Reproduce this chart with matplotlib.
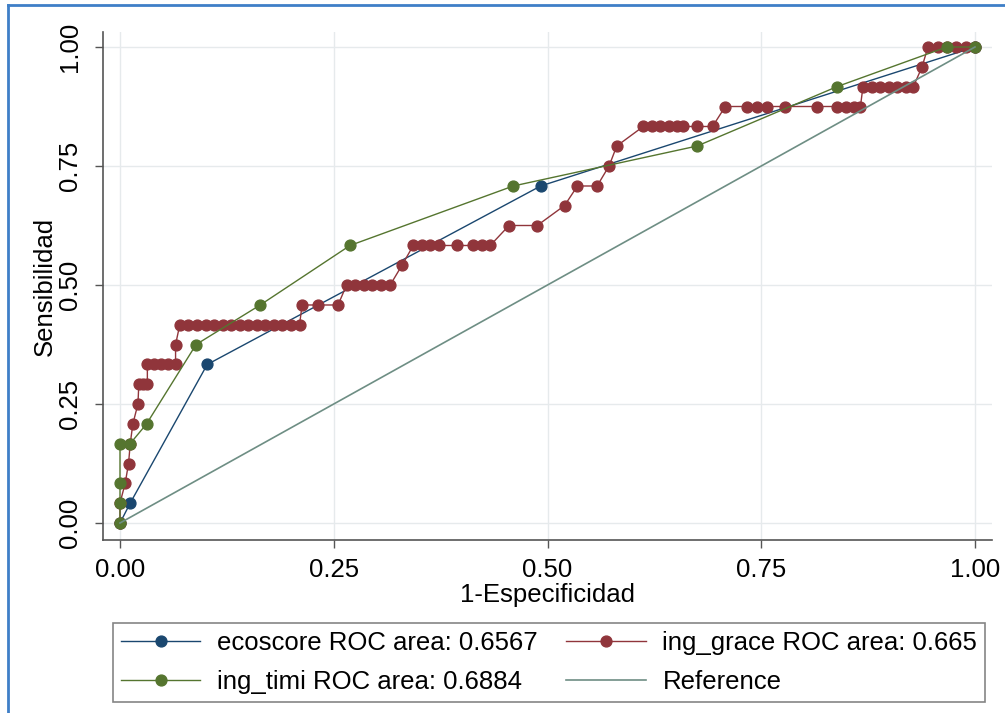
import matplotlib
matplotlib.use("Agg")
import matplotlib.pyplot as plt
from matplotlib.lines import Line2D

# ---- data ----
eco_fpr = [0.0, 0.012, 0.102, 0.492, 1.0]
eco_tpr = [0.0, 0.042, 0.333, 0.708, 1.0]

timi_fpr = [0.0, 0.0, 0.0, 0.0, 0.012, 0.031, 0.089, 0.164, 0.269, 0.46, 0.675, 0.839, 0.967, 1.0]
timi_tpr = [0.0, 0.042, 0.083, 0.167, 0.167, 0.208, 0.375, 0.458, 0.583, 0.708, 0.792, 0.917, 1.0, 1.0]

grace_fpr = [0.0, 0.0, 0.006, 0.010, 0.012, 0.015, 0.021, 0.022, 0.027, 0.032,
             0.032, 0.040, 0.048, 0.056, 0.065, 0.065,
             0.070, 0.080, 0.090, 0.100, 0.110, 0.120, 0.130, 0.140, 0.150, 0.160,
             0.170, 0.180, 0.190, 0.200, 0.210,
             0.213, 0.232, 0.255,
             0.265, 0.275, 0.285, 0.295, 0.305, 0.316,
             0.330,
             0.343, 0.353, 0.363, 0.373, 0.394, 0.413, 0.423, 0.433,
             0.455, 0.488,
             0.520,
             0.535, 0.558,
             0.572,
             0.581,
             0.612, 0.622, 0.632, 0.642, 0.652, 0.659, 0.675, 0.693,
             0.708, 0.733, 0.745, 0.757, 0.778, 0.815, 0.839, 0.849, 0.859, 0.866,
             0.869, 0.879, 0.889, 0.899, 0.909, 0.919, 0.928,
             0.938,
             0.945, 0.957, 0.967, 0.978, 0.989, 1.0]
grace_tpr = [0.0, 0.042, 0.083, 0.125, 0.167, 0.208, 0.25, 0.292, 0.292, 0.292,
             0.333, 0.333, 0.333, 0.333, 0.333, 0.375,
             0.417, 0.417, 0.417, 0.417, 0.417, 0.417, 0.417, 0.417, 0.417, 0.417,
             0.417, 0.417, 0.417, 0.417, 0.417,
             0.458, 0.458, 0.458,
             0.5, 0.5, 0.5, 0.5, 0.5, 0.5,
             0.542,
             0.583, 0.583, 0.583, 0.583, 0.583, 0.583, 0.583, 0.583,
             0.625, 0.625,
             0.667,
             0.708, 0.708,
             0.75,
             0.792,
             0.833, 0.833, 0.833, 0.833, 0.833, 0.833, 0.833, 0.833,
             0.875, 0.875, 0.875, 0.875, 0.875, 0.875, 0.875, 0.875, 0.875, 0.875,
             0.917, 0.917, 0.917, 0.917, 0.917, 0.917, 0.917,
             0.958,
             1.0, 1.0, 1.0, 1.0, 1.0, 1.0]

ref_x = [0.0, 1.0]
ref_y = [0.0, 1.0]

labels = ["ecoscore ROC area: 0.6567", "ing_grace ROC area: 0.665",
          "ing_timi ROC area: 0.6884", "Reference"]
ticks = [0.0, 0.25, 0.5, 0.75, 1.0]
tick_labels = ["0.00", "0.25", "0.50", "0.75", "1.00"]

# ---- style ----
plt.rcParams['font.family'] = ['Liberation Sans', 'DejaVu Sans']
FS = 18.5
navy, maroon, green, teal = "#1a476f", "#90353b", "#55752f", "#6e8e84"

W, H = 1005, 713
fig = plt.figure(figsize=(W / 100, H / 100), dpi=100)
fig.patch.set_facecolor("white")

ax = fig.add_axes([103 / W, 1 - 540 / H, (992 - 103) / W, (540 - 32) / H])
ax.set_xlim(-17 / 855, 1 + 17 / 855)
ax.set_ylim(-17 / 476, 1 + 15 / 476)

for s in ["top", "right"]:
    ax.spines[s].set_visible(False)
for s in ["left", "bottom"]:
    ax.spines[s].set_color("#555555")
    ax.spines[s].set_linewidth(1.2)

ax.set_xticks(ticks)
ax.set_xticklabels(tick_labels, fontsize=FS)
ax.set_yticks(ticks)
ax.set_yticklabels(tick_labels, fontsize=FS, rotation=90, va="center")
ax.tick_params(axis="x", length=6, width=1, color="#555555", pad=7)
ax.tick_params(axis="y", length=6, width=1, color="#555555", pad=9)
ax.grid(True, color="#e6eaec", lw=1)
ax.set_axisbelow(True)

ms = 7.8
lw = 1.0
l1, = ax.plot(eco_fpr, eco_tpr, "-o", color=navy, ms=ms, lw=lw, mec=navy, zorder=3)
l2, = ax.plot(grace_fpr, grace_tpr, "-o", color=maroon, ms=ms, lw=lw, mec=maroon, zorder=4)
l3, = ax.plot(timi_fpr, timi_tpr, "-o", color=green, ms=ms, lw=lw, mec=green, zorder=5)
l4, = ax.plot(ref_x, ref_y, "-", color=teal, lw=lw + 0.2, zorder=6)

ax.set_xlabel("1-Especificidad", fontsize=FS, labelpad=1)
ax.set_ylabel("Sensibilidad", fontsize=FS, labelpad=1)

leg = fig.legend([l1, l3, l2, l4], [labels[0], labels[2], labels[1], labels[3]],
                 ncol=2, loc="center", mode="expand",
                 bbox_to_anchor=(113 / W, 1 - 703 / H, (985 - 113) / W, (703 - 622) / H),
                 fontsize=FS, frameon=True, fancybox=False, handlelength=3.1,
                 handletextpad=0.65, numpoints=1, borderaxespad=0, borderpad=0.3,
                 labelspacing=0.6, columnspacing=0.6)
leg.get_frame().set_edgecolor("#666666")
leg.get_frame().set_linewidth(1.2)

# blue outer frame (left/top visible)
fig.add_artist(Line2D([8 / W, 8 / W], [0, 1 - 5 / H], color="#3f7fc7", lw=2, transform=fig.transFigure))
fig.add_artist(Line2D([8 / W, 1], [1 - 5 / H, 1 - 5 / H], color="#3f7fc7", lw=2, transform=fig.transFigure))

fig.savefig("out.png", dpi=100)
